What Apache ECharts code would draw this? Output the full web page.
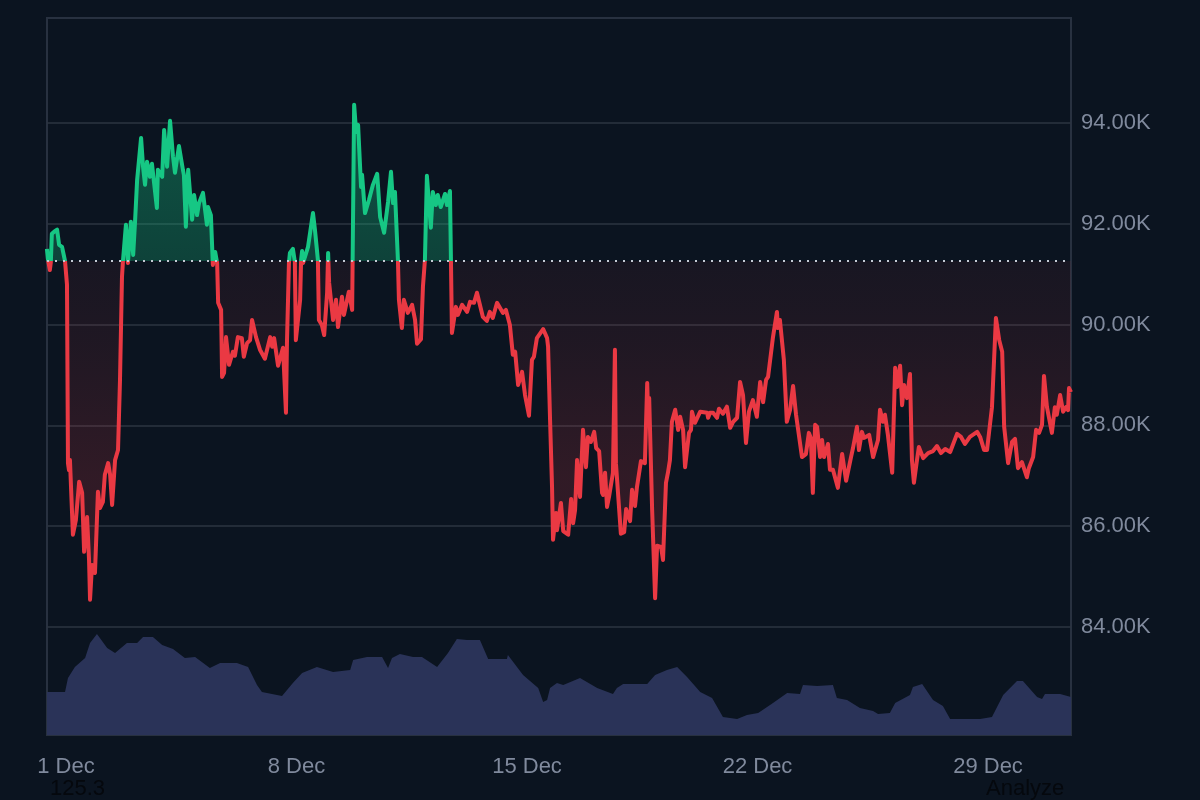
<!DOCTYPE html>
<html>

<head>
    <meta charset="utf-8">
    <title>BTC price December</title>
    <script src="https://cdn.jsdelivr.net/npm/echarts@6/dist/echarts.min.js"></script>
    <style>
        html, body {
            margin: 0;
            background-color: #0b1420;
        }
        #chart {
            width: 1200px;
            height: 800px;
            overflow: hidden;
        }
    </style>
</head>

<body>
    <div id="chart"></div>
    <script>
        // day of December (fractional) and price in thousands
        const priceDays = [
            0.42, 0.45, 0.51, 0.54, 0.57, 0.64, 0.73, 0.79, 0.88, 0.97, 1.03, 1.06, 1.09, 1.12, 1.21, 1.30, 1.40, 1.49, 1.55, 1.61,
            1.64, 1.70, 1.73, 1.79, 1.88, 1.97, 2.03, 2.12, 2.18, 2.28, 2.34, 2.40, 2.49, 2.58, 2.64, 2.70, 2.73,
            2.82, 2.88, 2.97, 3.04, 3.10, 3.16, 3.28, 3.34, 3.40, 3.46, 3.55, 3.61, 3.76, 3.79, 3.92, 3.98, 4.07, 4.16, 4.25, 4.31,
            4.43, 4.55, 4.58, 4.64, 4.71, 4.83, 4.89, 4.98, 5.04, 5.16, 5.28, 5.31, 5.40, 5.46, 5.53, 5.59,
            5.62, 5.71, 5.74, 5.80, 5.86, 5.95, 6.07, 6.13, 6.22, 6.34, 6.40, 6.50, 6.59, 6.65, 6.77, 6.89, 7.04, 7.20, 7.26, 7.32,
            7.44, 7.59, 7.68, 7.71, 7.77, 7.80, 7.89, 7.95, 7.98, 8.11, 8.14, 8.17, 8.20, 8.35, 8.50, 8.56, 8.65, 8.68, 8.77, 8.84,
            8.93, 8.96, 8.99, 9.11, 9.20, 9.26, 9.32, 9.38, 9.44, 9.59, 9.69, 9.75, 9.81, 9.87, 9.96, 9.99, 10.08, 10.20, 10.32,
            10.45, 10.54, 10.66, 10.78, 10.87, 10.93, 10.99, 11.08, 11.11, 11.20, 11.26, 11.38, 11.51, 11.60, 11.66, 11.78, 11.84,
            11.90, 11.96, 12.08, 12.14, 12.23, 12.29, 12.38, 12.51, 12.57, 12.66, 12.69, 12.72, 12.84, 12.90, 13.03, 13.18, 13.27,
            13.39, 13.48, 13.66, 13.78, 13.87, 13.96, 14.09, 14.27, 14.36, 14.48, 14.57, 14.64, 14.73, 14.85, 14.94, 15.06, 15.15,
            15.21, 15.30, 15.49, 15.61, 15.64, 15.70, 15.76, 15.79, 15.88, 15.91, 16.03, 16.10, 16.25, 16.34, 16.40, 16.46, 16.52,
            16.61, 16.70, 16.79, 16.85, 16.94, 17.04, 17.10, 17.19, 17.28, 17.31, 17.37, 17.43, 17.49, 17.61, 17.67, 17.70, 17.85,
            17.95, 18.01, 18.13, 18.19, 18.28, 18.34, 18.46, 18.58, 18.65, 18.68, 18.71, 18.80, 18.89, 18.95, 19.07, 19.13, 19.22,
            19.28, 19.34, 19.40, 19.50, 19.59, 19.65, 19.74, 19.80, 19.86, 19.92, 19.98, 20.01, 20.10, 20.26, 20.47, 20.50, 20.56,
            20.65, 20.77, 20.83, 20.95, 21.07, 21.17, 21.26, 21.38, 21.47, 21.56, 21.59, 21.65, 21.74, 21.86, 21.98, 22.08, 22.17,
            22.26, 22.32, 22.47, 22.59, 22.62, 22.68, 22.80, 22.89, 22.99, 23.08, 23.17, 23.23, 23.35, 23.47, 23.56, 23.62, 23.68,
            23.75, 23.81, 23.90, 23.96, 24.02, 24.14, 24.20, 24.29, 24.44, 24.57, 24.69, 24.84, 24.90, 25.02, 25.08, 25.17, 25.23,
            25.39, 25.51, 25.66, 25.72, 25.81, 25.87, 25.96, 26.09, 26.18, 26.24, 26.33, 26.39, 26.45, 26.54, 26.63, 26.69, 26.75,
            26.83, 26.90, 27.03, 27.18, 27.33, 27.45, 27.57, 27.70, 27.85, 28.06, 28.18, 28.30, 28.45, 28.67, 28.76, 28.88, 28.97,
            29.03, 29.12, 29.24, 29.27, 29.34, 29.43, 29.49, 29.61, 29.67, 29.73, 29.82, 29.91, 30.03, 30.09, 30.18, 30.24, 30.37,
            30.46, 30.55, 30.64, 30.70, 30.79, 30.94, 31.03, 31.09, 31.19, 31.28, 31.37, 31.43, 31.46, 31.52
        ];
        const prices = [
            91.50, 91.30, 91.08, 91.24, 91.80, 91.84, 91.88, 91.58, 91.54, 91.26, 90.79, 87.25, 87.11, 87.31, 85.83, 86.12, 86.88, 86.66, 85.49, 85.49,
            86.18, 85.33, 84.54, 85.23, 85.07, 86.68, 86.36, 86.48, 87.02, 87.25, 87.02, 86.42, 87.31, 87.51, 88.90, 90.94, 91.26,
            91.98, 91.22, 92.04, 91.38, 92.08, 92.87, 93.70, 93.13, 92.77, 93.23, 92.93, 93.19, 92.31, 93.07, 92.93, 93.86, 93.13, 94.04, 93.33, 93.01,
            93.54, 93.07, 92.97, 91.94, 93.07, 92.08, 92.57, 92.17, 92.41, 92.61, 91.98, 92.33, 92.17, 91.18, 91.44, 91.22,
            90.43, 90.29, 88.96, 89.04, 89.75, 89.20, 89.46, 89.38, 89.75, 89.73, 89.36, 89.63, 89.69, 90.09, 89.75, 89.50, 89.32, 89.75, 89.56, 89.73,
            89.18, 89.54, 88.25, 89.63, 91.22, 91.42, 91.50, 91.24, 89.69, 90.49, 91.28, 91.46, 91.22, 91.54, 92.21, 91.88, 91.28, 90.09, 89.99, 89.79,
            90.63, 91.42, 90.83, 90.09, 90.49, 89.95, 89.97, 90.55, 90.19, 90.65, 90.29, 94.36, 93.82, 93.96, 92.73, 92.97, 92.21, 92.47, 92.77,
            92.99, 92.13, 91.82, 92.43, 93.03, 92.41, 92.63, 91.28, 90.49, 89.93, 90.49, 90.23, 90.39, 90.09, 89.62, 89.71, 90.75,
            91.28, 92.95, 91.92, 92.63, 92.37, 92.57, 92.33, 92.59, 92.37, 92.65, 91.28, 89.83, 90.35, 90.19, 90.39, 90.25, 90.45,
            90.43, 90.63, 90.15, 90.07, 90.25, 90.13, 90.43, 90.23, 90.29, 89.99, 89.40, 89.46, 88.80, 89.06, 88.60, 88.19, 89.30,
            89.36, 89.73, 89.91, 89.73, 89.56, 88.11, 86.78, 85.73, 86.26, 85.92, 86.46, 85.90, 85.83, 86.54, 86.06, 86.32, 87.31,
            86.58, 87.91, 87.17, 87.77, 87.67, 87.87, 87.55, 87.49, 86.66, 86.62, 87.06, 86.38, 86.58, 87.06, 89.50, 87.25, 85.85,
            85.88, 86.34, 86.10, 86.72, 86.40, 86.78, 87.29, 87.25, 88.84, 88.17, 88.54, 86.32, 84.57, 85.61, 85.59, 85.33, 86.86,
            87.06, 87.31, 88.07, 88.31, 87.91, 88.17, 87.91, 87.17, 87.17, 87.85, 87.91, 88.27, 88.05, 88.27, 88.25, 88.15, 88.25,
            88.25, 88.15, 88.33, 88.23, 88.37, 87.95, 88.07, 88.15, 88.86, 88.60, 88.60, 87.65, 88.27, 88.50, 88.17, 88.86, 88.46,
            88.90, 88.96, 89.75, 90.25, 89.93, 90.09, 89.30, 88.07, 88.31, 88.78, 88.21, 88.21, 87.37, 87.43, 87.85, 87.75, 86.66,
            88.01, 87.97, 87.37, 87.71, 87.37, 87.63, 87.12, 87.12, 86.76, 87.43, 86.90, 87.37, 87.55, 87.97, 87.51, 87.87, 87.75,
            87.81, 87.37, 87.71, 88.31, 88.07, 88.21, 87.81, 87.06, 89.14, 88.76, 89.18, 88.40, 88.80, 88.54, 89.02, 87.31, 86.86,
            87.25, 87.57, 87.35, 87.45, 87.49, 87.59, 87.45, 87.53, 87.47, 87.83, 87.77, 87.63, 87.77, 87.87, 87.77, 87.51, 87.51,
            87.85, 88.36, 90.13, 90.13, 89.69, 89.46, 87.97, 87.25, 87.25, 87.67, 87.73, 87.15, 87.27, 87.15, 86.97, 87.15, 87.37,
            87.91, 87.85, 88.01, 88.98, 88.36, 87.85, 88.36, 88.21, 88.60, 88.27, 88.36, 88.30, 88.74, 88.66
        ];
        // volume in billions
        const volumeDays = [
            0.42, 0.97, 1.06, 1.27, 1.58, 1.73, 1.94, 2.25, 2.49, 2.85, 3.16, 3.34, 3.64, 3.92, 4.25, 4.61, 4.92, 5.37, 5.68, 6.19,
            6.53, 6.80, 6.95, 7.56, 7.89, 8.17, 8.62, 9.11, 9.63, 9.72, 10.14, 10.60, 10.78, 10.90, 11.14, 11.54, 11.81, 12.27,
            12.60, 12.87, 13.18, 13.57, 13.82, 14.39, 14.42, 14.88, 15.34, 15.49, 15.61, 15.70, 15.91, 16.10, 16.61, 17.13, 17.61,
            17.73, 17.92, 18.65, 18.89, 19.25, 19.56, 19.86, 20.26, 20.62, 20.95, 21.38, 21.68, 22.02, 22.47, 22.90, 23.29, 23.38,
            23.81, 24.29, 24.41, 24.72, 25.11, 25.51, 25.66, 26.02, 26.18, 26.63, 26.72, 27.00, 27.33, 27.63, 27.85, 28.76, 29.12,
            29.46, 29.88, 30.06, 30.49, 30.64, 30.73, 31.19, 31.52
        ];
        const volumes = [
            21.5, 21.5, 28.5, 34, 38.5, 46, 50.5, 43.5, 41, 46, 46, 49, 49, 45, 43, 38.5, 39, 33.5, 36, 36,
            34, 25, 21.5, 19.5, 26, 31, 34, 31.5, 32.5, 37.5, 39, 39, 33.5, 38.5, 40.5, 39, 39, 34,
            41, 48, 47.5, 47.5, 38, 38, 40, 30, 23.5, 16.5, 17.5, 23.5, 26, 25, 28.5, 23.5, 20.5,
            23.5, 25.5, 25.5, 30, 32.5, 34, 29, 21.5, 18.5, 9, 8, 10, 11, 16, 21, 20.5, 25,
            24.5, 25, 18.5, 17.5, 13.5, 12, 10.5, 11, 16, 20, 24, 25.5, 17.5, 14.5, 8, 8, 9,
            20, 27, 27, 19, 18, 20.5, 20.5, 19
        ];
        const openPrice = 91.26;
        const priceTicks = [84, 86, 88, 90, 92, 94];
        const dayTicks = [1, 8, 15, 22, 29];

        const fontName = '"Liberation Sans", Arial, sans-serif';
        const gridColor = '#2c3541';
        const labelColor = '#808a9d';

        const pricePoints = priceDays.map((d, i) => [d, prices[i]]);
        const volumePoints = volumeDays.map((d, i) => [d, volumes[i]]);

        const chart = echarts.init(document.getElementById('chart'));
        chart.setOption({
            backgroundColor: '#0b1420',
            animation: false,
            grid: {
                left: 47,
                right: 129,
                top: 18,
                bottom: 65,
                show: true,
                backgroundColor: 'transparent',
                borderColor: '#283140',
                borderWidth: 2
            },
            xAxis: {
                type: 'value',
                min: 0.423,
                max: 31.52,
                axisLine: { show: false },
                axisTick: { show: false, customValues: dayTicks },
                splitLine: { show: false },
                axisLabel: {
                    customValues: dayTicks,
                    margin: 21,
                    color: labelColor,
                    fontFamily: fontName,
                    fontSize: 22,
                    formatter: v => v + ' Dec'
                }
            },
            yAxis: [
                {
                    type: 'value',
                    position: 'right',
                    min: 81.857,
                    max: 96.08,
                    axisLine: { show: false },
                    axisTick: { show: false, customValues: priceTicks },
                    splitLine: { show: true, lineStyle: { color: gridColor, width: 1.5 } },
                    axisLabel: {
                        customValues: priceTicks,
                        margin: 10,
                        padding: [4, 0, 0, 0],
                        color: labelColor,
                        fontFamily: fontName,
                        fontSize: 22,
                        formatter: v => v.toFixed(2) + 'K'
                    }
                },
                {
                    type: 'value',
                    min: 0,
                    max: 358.5,
                    show: false,
                    splitLine: { show: false }
                }
            ],
            visualMap: {
                show: false,
                seriesIndex: 0,
                dimension: 1,
                // both pieces need finite bounds, otherwise the line gets no colour stops
                pieces: [
                    { gt: openPrice, lte: 100, color: '#16c784' },
                    { gt: 80, lte: openPrice, color: '#ea3943' }
                ]
            },
            series: [
                {
                    name: 'Price',
                    type: 'line',
                    data: pricePoints,
                    yAxisIndex: 0,
                    z: 3,
                    showSymbol: false,
                    symbol: 'none',
                    lineStyle: { width: 4, join: 'round' },
                    areaStyle: {
                        origin: openPrice,
                        opacity: 1,
                        // one gradient across the whole plot, hard switch at the open price
                        color: {
                            type: 'linear',
                            global: true,
                            x: 0, y: 18, x2: 0, y2: 735,
                            colorStops: [
                                { offset: 0.12, color: 'rgba(22,199,132,0.36)' },
                                { offset: 0.339, color: 'rgba(22,199,132,0.26)' },
                                { offset: 0.339, color: 'rgba(234,57,67,0.06)' },
                                { offset: 0.45, color: 'rgba(234,57,67,0.09)' },
                                { offset: 0.64, color: 'rgba(234,57,67,0.17)' }
                            ]
                        }
                    },
                    markLine: {
                        silent: true,
                        symbol: 'none',
                        label: { show: false },
                        lineStyle: { color: '#c4cad4', type: [2, 6], width: 2 },
                        data: [{ yAxis: openPrice }]
                    }
                },
                {
                    name: 'Volume',
                    type: 'line',
                    data: volumePoints,
                    yAxisIndex: 1,
                    z: 1,
                    showSymbol: false,
                    symbol: 'none',
                    lineStyle: { width: 0 },
                    itemStyle: { color: '#2a3358' },
                    areaStyle: { color: '#2a3358', opacity: 1 }
                }
            ],
            graphic: [
                {
                    type: 'text',
                    left: 50,
                    top: 778,
                    style: { text: '125.3', fill: '#05080d', font: '22px ' + fontName }
                },
                {
                    type: 'text',
                    left: 986,
                    top: 778,
                    style: { text: 'Analyze', fill: '#05080d', font: '22px ' + fontName }
                }
            ]
        });
    </script>
</body>

</html>
